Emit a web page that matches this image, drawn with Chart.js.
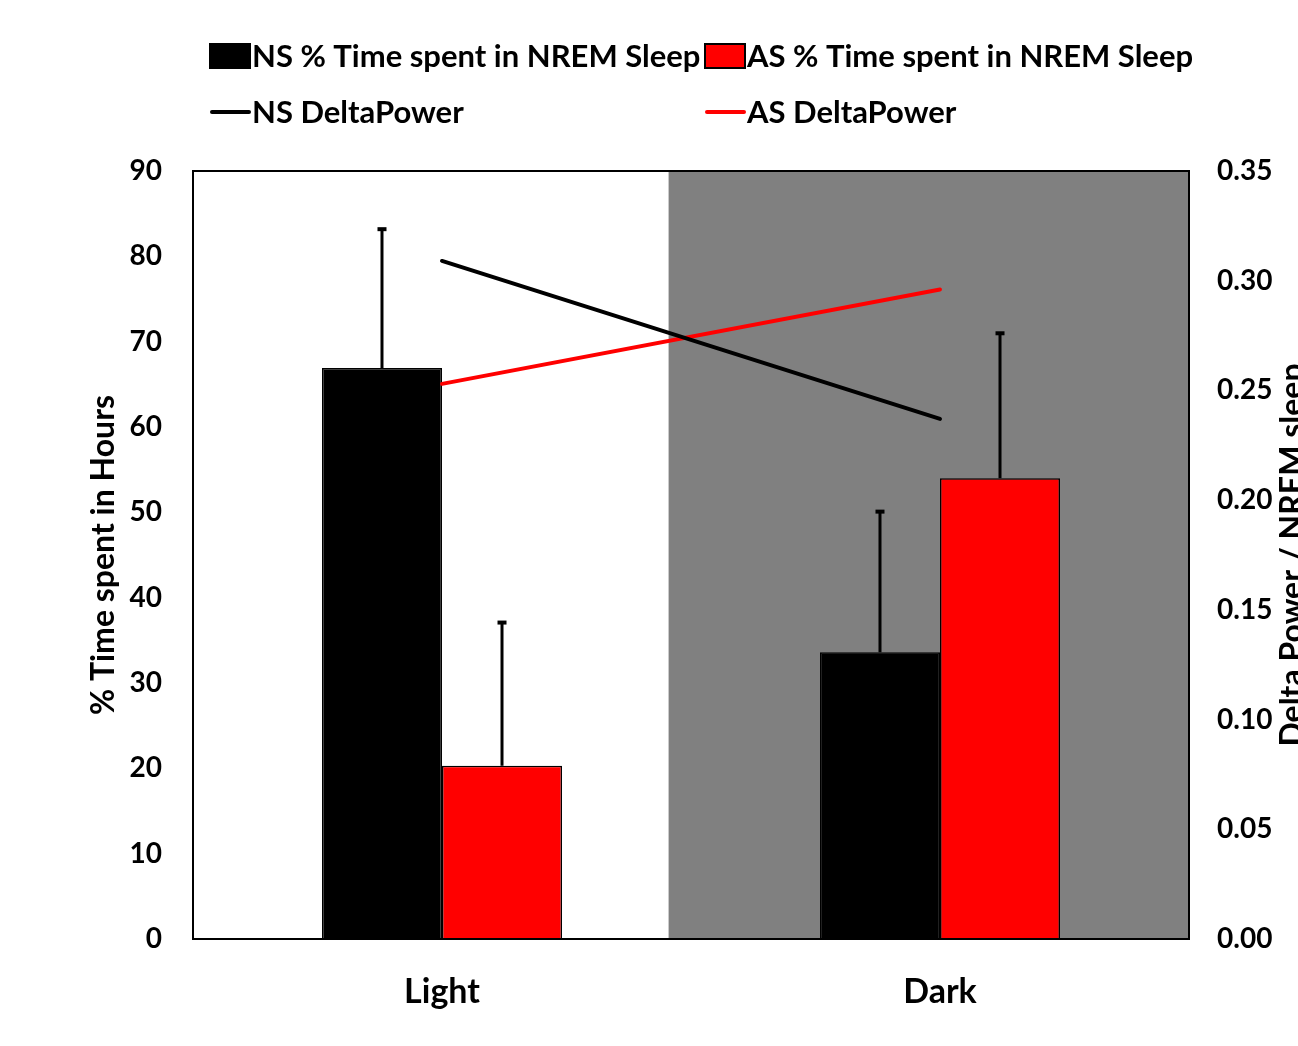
<!DOCTYPE html>
<html>
<head>
<meta charset="utf-8">
<script src="https://cdn.jsdelivr.net/npm/chart.js@4"></script>
<style>
html,body{margin:0;padding:0;background:#fff;overflow:hidden;}
#wrap{width:1298px;height:1046px;}
</style>
</head>
<body>
<div id="wrap"><canvas id="c" width="1298" height="1046"></canvas></div>
<script>
// ---- data ----
const categories = ['Light', 'Dark'];
const nsTime = [66.9, 33.6];
const asTime = [20.3, 54.0];
const nsTimeErr = [16.4, 16.6];
const asTimeErr = [16.9, 17.1];
const nsDelta = [0.309, 0.237];
const asDelta = [0.253, 0.296];
const seriesNames = ['NS % Time spent in NREM Sleep', 'AS % Time spent in NREM Sleep', 'NS DeltaPower', 'AS DeltaPower'];
const leftTitle = '% Time spent in Hours';
const rightTitle = 'Delta Power / NREM sleep';

const TXT = '"Lato", "Open Sans", sans-serif';

const decor = {
  id: 'decor',
  beforeDatasetsDraw(chart) {
    const {ctx, chartArea: a, scales} = chart;
    const xs = scales.x;
    const p0 = xs.getPixelForValue(0), p1 = xs.getPixelForValue(1);
    const gl = p0 + (p1 - p0) * 0.455;
    ctx.save();
    ctx.fillStyle = '#808080';
    ctx.fillRect(gl, a.top, a.right - gl, a.bottom - a.top);
    ctx.restore();
  },
  afterDatasetsDraw(chart) {
    const {ctx, chartArea: a, scales} = chart;
    const ys = scales.y;
    const errs = [nsTimeErr, asTimeErr];
    const vals = [nsTime, asTime];
    ctx.save();
    ctx.strokeStyle = '#000';
    [0, 1].forEach(di => {
      const meta = chart.getDatasetMeta(di);
      meta.data.forEach((bar, j) => {
        const yTop = ys.getPixelForValue(vals[di][j] + errs[di][j]);
        const yBar = ys.getPixelForValue(vals[di][j]);
        ctx.lineWidth = 3;
        ctx.beginPath();
        ctx.moveTo(bar.x, yBar);
        ctx.lineTo(bar.x, yTop);
        ctx.stroke();
        ctx.lineWidth = 4;
        ctx.beginPath();
        ctx.moveTo(bar.x - 4.5, yTop + 1);
        ctx.lineTo(bar.x + 4.5, yTop + 1);
        ctx.stroke();
      });
    });
    // plot border
    ctx.lineWidth = 2;
    ctx.strokeRect(a.left, a.top, a.right - a.left, a.bottom - a.top);
    ctx.restore();
  },
  afterDraw(chart) {
    const {ctx, chartArea: a} = chart;
    ctx.save();
    ctx.fillStyle = '#000';
    ctx.font = 'bold 31px ' + TXT;
    ctx.textBaseline = 'middle';
    ctx.textAlign = 'left';
    const r1 = 56, r2 = 112;
    const cols = [210, 705];
    const barCols = ['#000000', '#ff0000'];
    const lineCols = ['#000000', '#ff0000'];
    for (let i = 0; i < 2; i++) {
      ctx.fillStyle = barCols[i];
      ctx.fillRect(cols[i], r1 - 12, 40, 24);
      ctx.strokeStyle = '#000';
      ctx.lineWidth = 2;
      ctx.strokeRect(cols[i], r1 - 12, 40, 24);
      ctx.fillStyle = '#000';
      ctx.fillText(seriesNames[i], cols[i] + 42, r1 + 1);
      ctx.strokeStyle = lineCols[i];
      ctx.lineWidth = 4;
      ctx.lineCap = 'round';
      ctx.beginPath();
      ctx.moveTo(cols[i] + 2, r2);
      ctx.lineTo(cols[i] + 39, r2);
      ctx.stroke();
      ctx.fillStyle = '#000';
      ctx.fillText(seriesNames[i + 2], cols[i] + 42, r2 + 1);
    }
    // axis titles
    const cy = (a.top + a.bottom) / 2;
    ctx.font = 'bold 32px ' + TXT;
    ctx.textAlign = 'center';
    ctx.save();
    ctx.translate(104, cy);
    ctx.rotate(-Math.PI / 2);
    ctx.fillText(leftTitle, 0, 0);
    ctx.restore();
    ctx.save();
    ctx.translate(1293, cy);
    ctx.rotate(-Math.PI / 2);
    ctx.fillText(rightTitle, 0, 0);
    ctx.restore();
    ctx.restore();
  }
};

new Chart(document.getElementById('c'), {
  type: 'bar',
  data: {
    labels: categories,
    datasets: [
      {label: seriesNames[0], data: nsTime, backgroundColor: '#000000', borderColor: '#000000', borderWidth: 1.5, yAxisID: 'y', order: 2, categoryPercentage: 0.482, barPercentage: 1},
      {label: seriesNames[1], data: asTime, backgroundColor: '#ff0000', borderColor: '#000000', borderWidth: 1.5, yAxisID: 'y', order: 2, categoryPercentage: 0.482, barPercentage: 1},
      {type: 'line', label: seriesNames[2], data: nsDelta, borderColor: '#000000', borderWidth: 4, pointRadius: 0, yAxisID: 'y1', order: 1, borderCapStyle: 'round'},
      {type: 'line', label: seriesNames[3], data: asDelta, borderColor: '#ff0000', borderWidth: 4, pointRadius: 0, yAxisID: 'y1', order: 1, borderCapStyle: 'round'}
    ]
  },
  options: {
    responsive: false,
    animation: false,
    layout: {padding: {top: 171, left: 0, right: 0, bottom: 0}},
    plugins: {legend: {display: false}, tooltip: {enabled: false}},
    scales: {
      x: {
        grid: {display: false, drawTicks: false},
        border: {display: false},
        ticks: {color: '#000', font: {family: TXT, size: 34, weight: 'bold'}, padding: 33},
        afterFit(s) { s.height = 107; }
      },
      y: {
        position: 'left', min: 0, max: 90,
        grid: {display: false, drawTicks: false},
        border: {display: false},
        ticks: {stepSize: 10, color: '#000', font: {family: TXT, size: 28, weight: 'bold'}, padding: 31},
        afterFit(s) { s.width = 193; }
      },
      y1: {
        position: 'right', min: 0, max: 0.35,
        grid: {display: false, drawTicks: false},
        border: {display: false},
        ticks: {stepSize: 0.05, color: '#000', font: {family: TXT, size: 28, weight: 'bold'}, padding: 28,
          callback: v => Number(v).toFixed(2)},
        afterFit(s) { s.width = 109; }
      }
    }
  },
  plugins: [decor]
});
</script>
</body>
</html>
